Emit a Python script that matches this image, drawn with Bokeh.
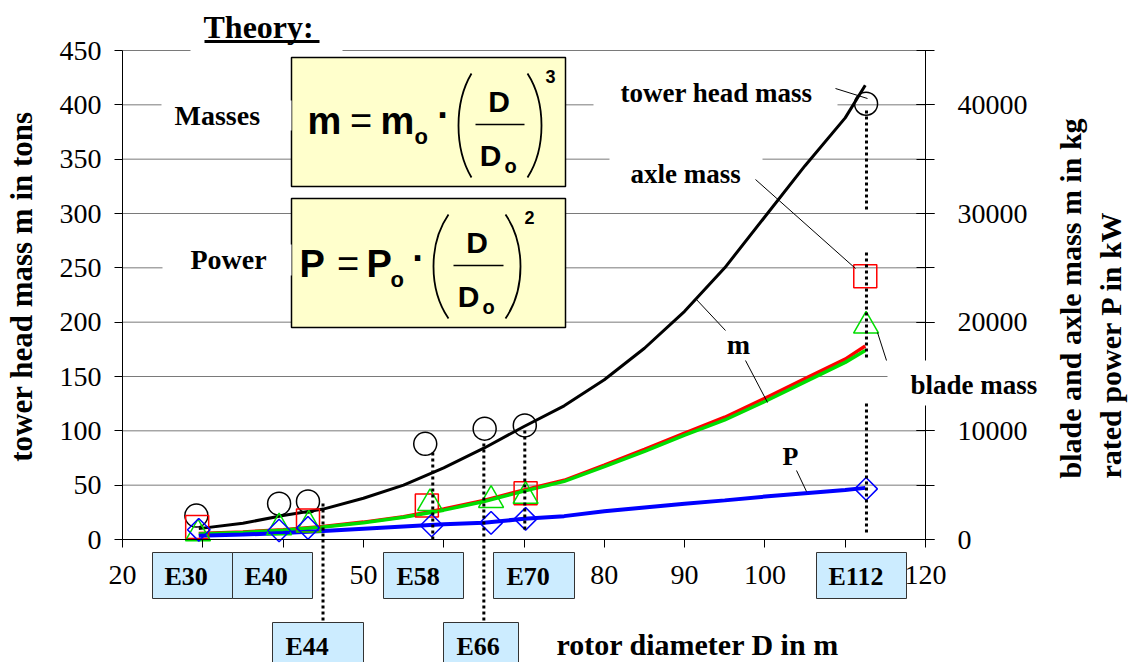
import math
from bokeh.plotting import figure
from bokeh.models import Range1d, LinearAxis, SingleIntervalTicker, Label, Arrow, BoxAnnotation
from bokeh.embed import file_html
from bokeh.resources import INLINE

# ---------------- data ----------------
curve_D = [29.5, 35, 40, 45, 50, 55, 60, 65, 70, 75, 80, 85, 90, 95, 100, 105, 110, 112.5]
tower_head_t = [10, 15, 22, 28, 38, 50, 66, 84, 104, 123, 147, 176, 210, 250, 297, 344, 388, 418]
axle_kg = [550, 700, 900, 1200, 1600, 2100, 2800, 3600, 4550, 5450, 6850, 8300, 9800, 11250, 13000, 14800, 16600, 17800]
blade_kg = [500, 650, 850, 1150, 1550, 2050, 2700, 3500, 4450, 5350, 6700, 8100, 9600, 11000, 12700, 14500, 16300, 17400]
power_kw = [350, 450, 600, 780, 1000, 1200, 1400, 1550, 1900, 2150, 2600, 2950, 3300, 3600, 3950, 4250, 4550, 4750]

turbines = ["E30", "E40", "E44", "E58", "E66", "E70", "E112"]
circle_D = [29.2, 39.5, 43.1, 57.7, 65.1, 70.1, 112.6]
circle_t = [22, 33, 35, 88, 102, 105, 401]
square_D = [29.3, 43.1, 57.9, 70.2, 112.5]
square_kg = [1150, 1750, 3130, 4260, 24230]
tri_D = [29.4, 39.5, 43.2, 58.3, 65.9, 70.2, 112.6]
tri_kg = [550, 1100, 1350, 3340, 3620, 4000, 19660]
dia_D = [29.5, 39.5, 43.1, 58.5, 65.9, 70.2, 112.6]
dia_kw = [890, 830, 1070, 1290, 1530, 1900, 4660]
dotted_D = [44.97, 58.64, 65.0, 70.1, 112.65]
grid_t = list(range(0, 451, 50))

x_title = "rotor diameter D in m"
yl_title = "tower head mass m in tons"
yr_title1 = "blade and axle mass m in kg"
yr_title2 = "rated power P in kW"

# ---------------- layout ----------------
W, H = 1132, 662
FL, FR, FT, FB = 122, 925, 50, 539        # plot-area edges in page pixels
X0, X1, Y0, Y1 = 20, 120, 0, 450

def X(px):
    return X0 + (px - FL) * (X1 - X0) / (FR - FL)

def Y(py):
    return Y0 + (FB - py) * (Y1 - Y0) / (FB - FT)

SERIF = "Liberation Serif"
SANS = "Liberation Sans"

# the frame spans the whole canvas; axes are pinned with fixed_location
p = figure(width=W, height=H, output_backend="svg", toolbar_location=None,
           x_range=Range1d(X(0), X(W)), y_range=Range1d(Y(H), Y(0)),
           x_axis_type=None, y_axis_type=None,
           min_border_left=0, min_border_right=0, min_border_top=0, min_border_bottom=0)
p.extra_y_ranges = {"right": Range1d(100 * Y(H), 100 * Y(0))}
p.outline_line_color = None
p.background_fill_color = "white"
p.border_fill_color = "white"

# grid lines (behind everything)
p.segment(x0=[X0] * len(grid_t), x1=[X1] * len(grid_t), y0=grid_t, y1=grid_t,
          line_color="#7a7a7a", line_width=1)

xt = SingleIntervalTicker(interval=10, num_minor_ticks=0)
ylt = SingleIntervalTicker(interval=50, num_minor_ticks=0)
yrt = SingleIntervalTicker(interval=10000, num_minor_ticks=2)

common = dict(axis_line_color="black", axis_line_width=1, major_tick_line_color="black",
              minor_tick_line_color="black", major_label_text_color="black",
              major_label_text_font=SERIF, major_label_text_font_size="28px")
xaxis = LinearAxis(ticker=xt, fixed_location=0, bounds=(20, 120), major_tick_out=8, major_tick_in=0,
                   minor_tick_out=0, minor_tick_in=0, major_label_standoff=18, **common)
yaxis = LinearAxis(ticker=ylt, fixed_location=20, bounds=(0, 450), major_tick_out=8, major_tick_in=0,
                   minor_tick_out=0, minor_tick_in=0, major_label_standoff=13, **common)
raxis = LinearAxis(ticker=yrt, y_range_name="right", fixed_location=120, bounds=(0, 45000),
                   major_tick_out=9, major_tick_in=9, minor_tick_out=9, minor_tick_in=9,
                   major_label_standoff=23, **common)
p.add_layout(xaxis, "below")
p.add_layout(yaxis, "left")
p.add_layout(raxis, "right")

# ---------------- formula boxes ----------------
p.quad(left=[X(291), X(291)], right=[X(565), X(565)], top=[Y(57), Y(198)], bottom=[Y(186), Y(327)],
       fill_color="#FFFFCC", line_color="black", line_width=1.5)

def paren(x_end, x_mid, y_top, y_bot):
    xc = (8 * x_mid - 2 * x_end) / 6
    h = y_bot - y_top
    return (X(x_end), Y(y_top), X(x_end), Y(y_bot), X(xc), Y(y_top + 0.28 * h), X(xc), Y(y_bot - 0.28 * h))

pars = [paren(471, 458, 73, 177), paren(527, 541, 73, 177),
        paren(448, 433, 214, 318), paren(505, 520, 214, 318)]
p.bezier(x0=[q[0] for q in pars], y0=[q[1] for q in pars], x1=[q[2] for q in pars], y1=[q[3] for q in pars],
         cx0=[q[4] for q in pars], cy0=[q[5] for q in pars], cx1=[q[6] for q in pars], cy1=[q[7] for q in pars],
         line_color="black", line_width=1.8)
p.segment(x0=[X(475), X(453)], y0=[Y(124), Y(265)], x1=[X(524), X(503)], y1=[Y(124), Y(265)],
          line_color="black", line_width=1.5)

# ---------------- curves ----------------
p.line(curve_D, tower_head_t, line_color="black", line_width=3)
p.line(curve_D, axle_kg, y_range_name="right", line_color="red", line_width=3.5)
p.line(curve_D, blade_kg, y_range_name="right", line_color="#00DD00", line_width=3.5)
p.line(curve_D, power_kw, y_range_name="right", line_color="#0000FF", line_width=4)

# ---------------- markers ----------------
p.scatter(circle_D, circle_t, marker="circle", size=23, fill_color=None, line_color="black", line_width=1.5)
p.scatter(square_D, square_kg, y_range_name="right", marker="square", size=23, fill_color=None,
          line_color="red", line_width=1.5)
p.scatter(tri_D, tri_kg, y_range_name="right", marker="triangle", size=25, fill_color=None,
          line_color="#00DD00", line_width=1.5)
p.scatter(dia_D, dia_kw, y_range_name="right", marker="square", angle=math.pi / 4, size=16,
          fill_color=None, line_color="#0000FF", line_width=1.5)

# ---------------- boxes behind texts (annotations, drawn above axes) ----------------
def box(l, r, t, b, fill, line=None):
    p.add_layout(BoxAnnotation(left=X(l), right=X(r), top=Y(t), bottom=Y(b),
                               fill_color=fill, fill_alpha=1.0,
                               line_color=line if line else fill, line_alpha=1.0 if line else 0.0,
                               line_width=1))

box(190, 342, 8, 52, "white")          # Theory:
box(161, 291, 100, 130, "white")       # Masses
box(162, 291, 244, 275, "white")       # Power
box(593, 837, 80, 108, "white")        # tower head mass
box(609, 762, 150, 176, "white")       # axle mass
box(887, 1045, 360, 405, "white")      # blade mass

tbox = [(152, 232, 552, 598), (232, 312, 552, 598), (272, 363, 622, 672), (383, 463, 552, 598),
        (443, 518, 622, 672), (493, 574, 552, 598), (816, 906, 552, 598)]
for (l, r, t, b) in tbox:
    box(l, r, t, b, "#CCECFF", line="#333333")

# dotted guide lines (x from rotor diameters)
def dotted(D, py0, py1):
    p.add_layout(Arrow(end=None, x_start=D, y_start=Y(py0), x_end=D, y_end=Y(py1),
                       line_color="black", line_width=3, line_dash="3 3"))

dotted(dotted_D[0], 503, 622)
dotted(dotted_D[1], 452, 541)
dotted(dotted_D[2], 443, 622)
dotted(dotted_D[3], 430, 530)
dotted(dotted_D[4], 110, 210)
dotted(dotted_D[4], 252, 360)
dotted(dotted_D[4], 403, 532)

# ---------------- text helpers ----------------
KA = 0.33   # empirical baseline correction (fraction of font size) for alphabetic labels

def lab(text, px, py, size, font=SERIF, bold=True, align="left"):
    p.add_layout(Label(x=X(px), y=Y(py - KA * size), text=text, text_font=font,
                       text_font_size=f"{size}px", text_font_style="bold" if bold else "normal",
                       text_align=align, text_baseline="alphabetic", text_color="black"))

def vlab(text, px, py, size, align):
    p.add_layout(Label(x=X(px), y=Y(py), text=text, text_font=SERIF, text_font_size=f"{size}px",
                       text_font_style="bold", text_align=align, text_baseline="middle",
                       text_color="black", angle=math.pi / 2))

def seg(px0, py0, px1, py1, width=1.0):
    p.add_layout(Arrow(end=None, x_start=X(px0), y_start=Y(py0), x_end=X(px1), y_end=Y(py1),
                       line_color="black", line_width=width))

# formula 1
lab("m", 307, 133, 38, font=SANS)
lab("=", 360.5, 133, 38, font=SANS, bold=False, align="center")
lab("m", 380, 133, 38, font=SANS)
lab("o", 414, 143, 22, font=SANS)
lab("·", 443, 127, 38, font=SANS, align="center")
lab("D", 498.5, 111, 30, font=SANS, align="center")
lab("D", 490, 165, 30, font=SANS, align="center")
lab("o", 504, 172, 20, font=SANS)
lab("3", 545, 82, 18, font=SANS)
# formula 2
lab("P", 299, 276, 38, font=SANS)
lab("=", 347.5, 276, 38, font=SANS, bold=False, align="center")
lab("P", 366, 276, 38, font=SANS)
lab("o", 390, 286, 22, font=SANS)
lab("·", 418, 270, 38, font=SANS, align="center")
lab("D", 476.5, 252, 30, font=SANS, align="center")
lab("D", 468, 306, 30, font=SANS, align="center")
lab("o", 482, 313, 20, font=SANS)
lab("2", 524, 223, 18, font=SANS)

# headings and annotations
lab("Theory:", 203, 37, 32)
lab("Masses", 174, 124, 28)
lab("Power", 190, 268, 28)
lab("tower head mass", 620, 101, 27)
lab("axle mass", 630, 182, 27)
lab("blade mass", 910, 393, 27)
lab("m", 738, 353, 28, align="center")
lab("P", 790, 465, 26, align="center")

# turbine labels
tlab = [(164, 585), (244, 585), (285, 655), (396, 585), (456, 655), (506, 585), (828, 585)]
for name, (tx, ty) in zip(turbines, tlab):
    lab(name, tx, ty, 26)

# axis titles
lab(x_title, 556, 654, 30)
vlab(yl_title, 21, 286, 31, "center")
vlab(yr_title1, 1070, 478, 30, "left")
vlab(yr_title2, 1110, 478, 30, "left")

# leader lines and underline
seg(204, 41, 319, 41, width=3)
seg(835, 88, 867, 98)
seg(755, 179, 855, 268)
seg(695, 298, 725, 330)
seg(745, 360, 767, 402)
seg(796, 470, 806, 491)
seg(877, 332, 886, 360)

open("out.html", "w").write(file_html(p, INLINE))
